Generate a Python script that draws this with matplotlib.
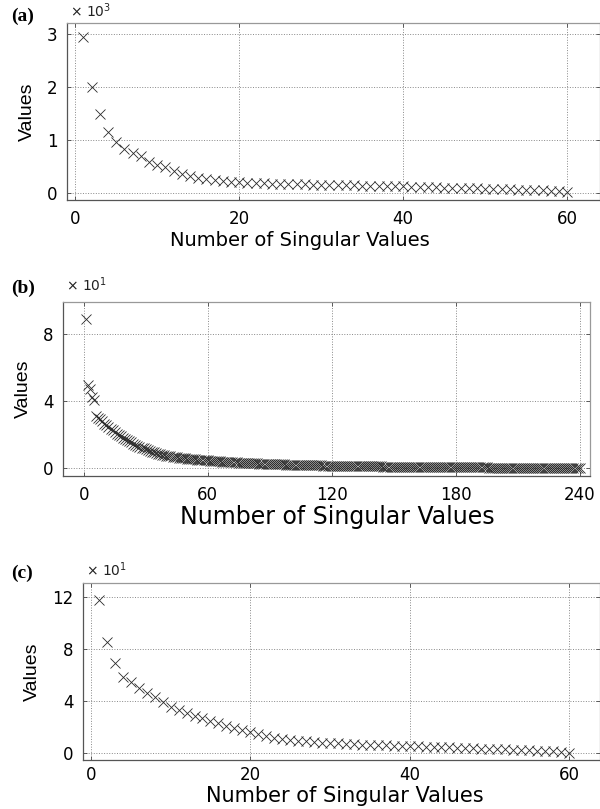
import matplotlib
matplotlib.use("Agg")
import matplotlib.pyplot as plt
import numpy as np

# ---------------------------------------------------------------------------
# data (values in units of the axis multiplier)
# ---------------------------------------------------------------------------

# (a) 60 singular values, x 10^3
SV_A = [
    2.94, 2.00, 1.48, 1.14, 0.97, 0.83, 0.75, 0.69, 0.59, 0.53,
    0.50, 0.41, 0.36, 0.32, 0.29, 0.27, 0.25, 0.23, 0.21, 0.20,
    0.195, 0.19, 0.185, 0.18, 0.176, 0.172, 0.168, 0.164, 0.16, 0.157,
    0.154, 0.15, 0.147, 0.144, 0.14, 0.137, 0.134, 0.13, 0.127, 0.124,
    0.12, 0.116, 0.112, 0.108, 0.104, 0.10, 0.096, 0.092, 0.088, 0.084,
    0.08, 0.075, 0.07, 0.065, 0.06, 0.055, 0.05, 0.044, 0.036, 0.02,
]

# (b) 240 singular values, x 10^1
SV_B = [
    8.90, 4.95, 4.70, 4.25, 4.05, 3.10, 3.00, 2.90, 2.80, 2.65,
    2.55, 2.45, 2.35, 2.25, 2.15, 2.05, 1.98, 1.90, 1.82, 1.75,
    1.68, 1.60, 1.53, 1.46, 1.40, 1.34, 1.28, 1.22, 1.17, 1.12,
    1.07, 1.02, 0.98, 0.94, 0.90, 0.87, 0.84, 0.81, 0.78, 0.75,
    0.73, 0.71, 0.69, 0.67, 0.65, 0.63, 0.62, 0.60, 0.59, 0.57,
    0.56, 0.55, 0.54, 0.52, 0.51, 0.50, 0.49, 0.48, 0.47, 0.46,
    0.45, 0.44, 0.43, 0.42, 0.41, 0.40, 0.39, 0.39, 0.38, 0.37,
    0.36, 0.35, 0.35, 0.34, 0.33, 0.33, 0.32, 0.31, 0.31, 0.30,
    0.29, 0.29, 0.28, 0.28, 0.27, 0.27, 0.26, 0.26, 0.25, 0.25,
    0.24, 0.24, 0.23, 0.23, 0.22, 0.22, 0.22, 0.21, 0.21, 0.20,
    0.20, 0.20, 0.19, 0.19, 0.19, 0.18, 0.18, 0.18, 0.17, 0.17,
    0.17, 0.16, 0.16, 0.16, 0.16, 0.15, 0.15, 0.15, 0.15, 0.14,
    0.14, 0.14, 0.14, 0.13, 0.13, 0.13, 0.13, 0.13, 0.12, 0.12,
    0.12, 0.12, 0.12, 0.11, 0.11, 0.11, 0.11, 0.11, 0.10, 0.10,
    0.10, 0.10, 0.10, 0.10, 0.09, 0.09, 0.09, 0.09, 0.09, 0.09,
    0.08, 0.08, 0.08, 0.08, 0.08, 0.08, 0.08, 0.07, 0.07, 0.07,
    0.07, 0.07, 0.07, 0.07, 0.07, 0.06, 0.06, 0.06, 0.06, 0.06,
    0.06, 0.06, 0.06, 0.06, 0.05, 0.05, 0.05, 0.05, 0.05, 0.05,
    0.05, 0.05, 0.05, 0.05, 0.04, 0.04, 0.04, 0.04, 0.04, 0.04,
    0.04, 0.04, 0.04, 0.04, 0.04, 0.03, 0.03, 0.03, 0.03, 0.03,
    0.03, 0.03, 0.03, 0.03, 0.03, 0.03, 0.03, 0.02, 0.02, 0.02,
    0.02, 0.02, 0.02, 0.02, 0.02, 0.02, 0.02, 0.02, 0.02, 0.02,
    0.02, 0.02, 0.02, 0.02, 0.01, 0.01, 0.01, 0.01, 0.01, 0.01,
    0.01, 0.01, 0.01, 0.01, 0.01, 0.01, 0.01, 0.01, 0.00, 0.00,
]

# (c) 60 singular values, x 10^1
SV_C = [
    11.75, 8.55, 6.90, 5.87, 5.49, 4.98, 4.65, 4.29, 3.95, 3.57,
    3.32, 3.07, 2.86, 2.68, 2.50, 2.30, 2.12, 1.96, 1.80, 1.62,
    1.45, 1.32, 1.20, 1.10, 1.02, 0.96, 0.91, 0.87, 0.83, 0.79,
    0.76, 0.73, 0.70, 0.67, 0.65, 0.63, 0.61, 0.59, 0.57, 0.55,
    0.53, 0.51, 0.49, 0.47, 0.45, 0.43, 0.41, 0.39, 0.37, 0.35,
    0.33, 0.31, 0.29, 0.27, 0.24, 0.21, 0.18, 0.15, 0.11, 0.06,
]

PANEL_LABELS = ["(a)", "(b)", "(c)"]
MULTIPLIERS = [r"$\times$ 10$^{3}$", r"$\times$ 10$^{1}$", r"$\times$ 10$^{1}$"]
X_TICKS = [[0, 20, 40, 60], [0, 60, 120, 180, 240], [0, 20, 40, 60]]
Y_TICKS = [[0, 1, 2, 3], [0, 4, 8], [0, 4, 8, 12]]
X_LABEL = "Number of Singular Values"
Y_LABEL = "Values"

FIG_W, FIG_H = 600, 809
SANS = ["DejaVu Sans"]
NARROW = ["Liberation Sans Narrow", "Liberation Sans", "DejaVu Sans"]

# panel geometry in pixels (left, top, right, bottom), axis limits,
# marker size, x-label size and centre, x tick pad, panel-letter bottom
PANELS = [
    dict(box=(67, 23, 600, 200), xlim=(-1, 64), ylim=(-0.13, 3.2), ms=7.0,
         xl=14, xl_center=(300, 241), xpad=7, tag_y=25, mult_y=20),
    dict(box=(63, 302, 590, 476), xlim=(-10, 245), ylim=(-0.47, 9.9), ms=6.5,
         xl=17, xl_center=(337, 517), xpad=7, tag_y=297, mult_y=294),
    dict(box=(83, 583, 600, 760), xlim=(-1, 63.9), ylim=(-0.51, 13.05), ms=7.0,
         xl=15, xl_center=(345, 796), xpad=4, tag_y=582, mult_y=579),
]


def px_rect(left, top, right, bottom):
    return [left / FIG_W, 1 - bottom / FIG_H, (right - left) / FIG_W, (bottom - top) / FIG_H]


fig = plt.figure(figsize=(FIG_W / 100, FIG_H / 100), dpi=100)

for i, (series, spec) in enumerate(zip([SV_A, SV_B, SV_C], PANELS)):
    left, top, right, bottom = spec["box"]
    ax = fig.add_axes(px_rect(*spec["box"]))
    x = np.arange(1, len(series) + 1)
    ax.plot(x, series, linestyle="none", marker="x", markersize=spec["ms"],
            markeredgewidth=0.6, color="#2a2a2a")

    ax.set_xlim(*spec["xlim"])
    ax.set_ylim(*spec["ylim"])
    ax.set_xticks(X_TICKS[i])
    ax.set_yticks(Y_TICKS[i])
    ax.tick_params(direction="in", length=3, width=0.6, color="#444",
                   labelsize=12, top=True, right=True, pad=7)
    ax.tick_params(axis="x", pad=spec["xpad"])
    for lab in ax.get_xticklabels() + ax.get_yticklabels():
        lab.set_family(SANS)
    ax.grid(True, linestyle=":", linewidth=0.7, color="#888")
    for side, sp in ax.spines.items():
        sp.set_linewidth(0.9)
        sp.set_color("#555" if side in ("left", "bottom") else "#999")

    ax.set_ylabel(Y_LABEL, family=NARROW, fontsize=14, labelpad=8)
    ax.set_xlabel(X_LABEL, family=SANS, fontsize=spec["xl"])
    cx, cy = spec["xl_center"]
    ax.xaxis.set_label_coords((cx - left) / (right - left),
                              (bottom - cy) / (bottom - top))
    ax.xaxis.label.set_verticalalignment("center")

    # multiplier above the axes and panel letter
    fig.text((left + 3) / FIG_W, 1 - spec["mult_y"] / FIG_H, MULTIPLIERS[i],
             family=SANS, fontsize=10, ha="left", va="bottom", color="#222")
    fig.text(11 / FIG_W, 1 - spec["tag_y"] / FIG_H, PANEL_LABELS[i],
             family=["Liberation Serif", "DejaVu Serif"], fontweight="bold",
             fontsize=14, ha="left", va="bottom")

fig.savefig("out.png", dpi=100)
